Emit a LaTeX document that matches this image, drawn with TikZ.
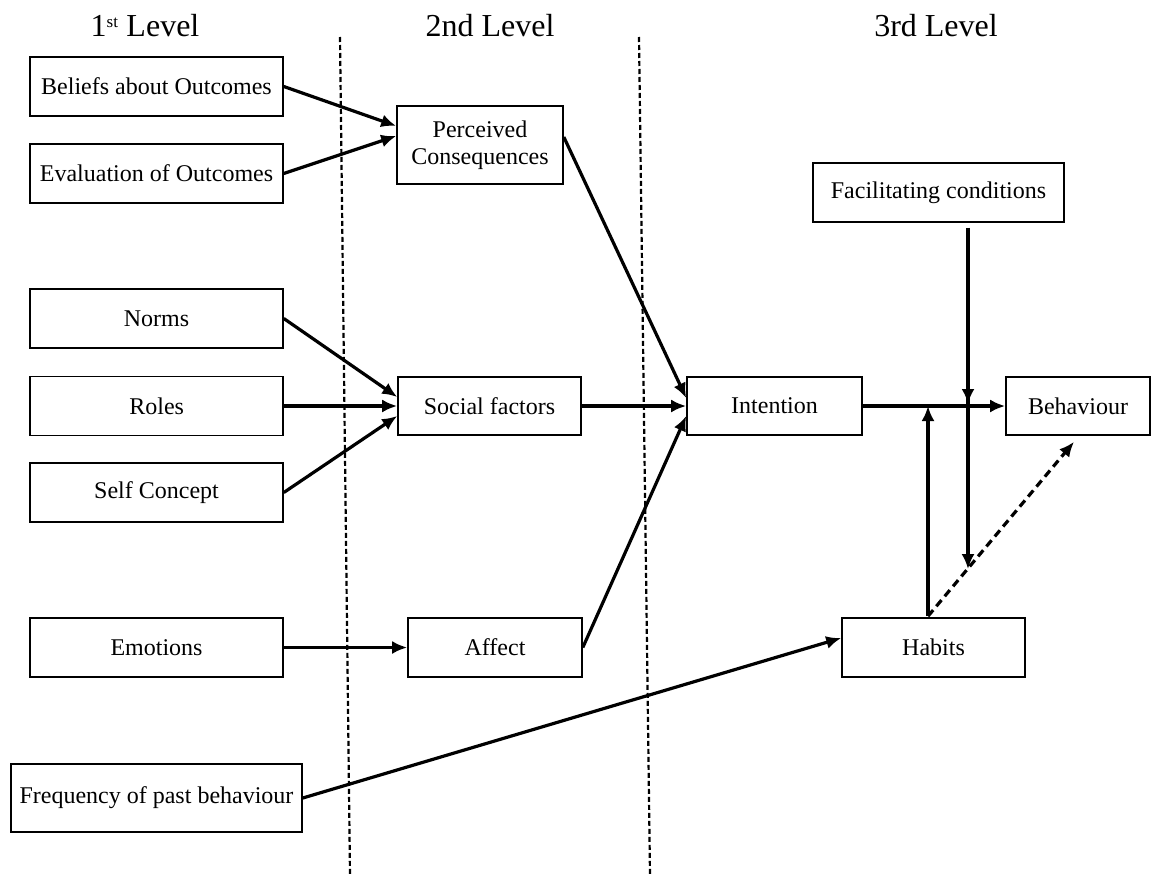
\documentclass[tikz,border=0pt]{standalone}
\usepackage{fontspec}
\setmainfont{Liberation Serif}
\usetikzlibrary{arrows.meta,calc}
\begin{document}
\begin{tikzpicture}[x=1pt,y=-1pt,
  box/.style={draw, line width=1.6pt, minimum height=59pt, inner sep=0pt,
    font=\fontsize{24}{27}\selectfont, align=center},
  arr/.style={line width=3.2pt, -{Latex[length=15pt,width=13pt]}},
  darr/.style={line width=3.2pt, dash pattern=on 8pt off 5pt, -{Latex[length=15pt,width=13pt]}},
  sep/.style={line width=2.2pt, dash pattern=on 5pt off 3pt},
  head/.style={font=\fontsize{32}{38}\selectfont, anchor=base}]
\useasboundingbox (0,0) rectangle (1158,875);

% headings
\node[head] (h1) at (145,37) {1\textsuperscript{\fontsize{17}{17}\selectfont st} Level};
\node[head] (h2) at (490,37) {2nd Level};
\node[head] (h3) at (936,37) {3rd Level};

% level separators
\draw[sep] (340,37) -- (350,875);
\draw[sep] (639,37) -- (650,875);

% boxes
\node[box, minimum width=253pt] (bel) at (156.5,86.5) {Beliefs about Outcomes};
\node[box, minimum width=253pt] (eva) at (156.5,173.5) {Evaluation of Outcomes};
\node[box, minimum width=166pt, minimum height=78pt] (perc) at (480,145) {Perceived\\Consequences};
\node[box, minimum width=251pt] (fac) at (938.5,192.5) {Facilitating conditions};
\node[box, minimum width=253pt] (norms) at (156.5,318.5) {Norms};
\node[box, minimum width=253pt] (roles) at (156.7,406) {Roles};
\node[box, minimum width=253pt] (self) at (156.5,492.5) {Self Concept};
\node[box, minimum width=183pt, minimum height=58pt] (soc) at (489.5,406) {Social factors};
\node[box, minimum width=175pt, minimum height=58pt] (int) at (774.5,406) {Intention};
\node[box, minimum width=144pt, minimum height=58pt] (beh) at (1078,406) {Behaviour};
\node[box, minimum width=253pt] (emo) at (156.5,647.5) {Emotions};
\node[box, minimum width=174pt] (aff) at (495,647.5) {Affect};
\node[box, minimum width=183pt] (hab) at (933.5,647.5) {Habits};
\node[box, minimum width=291pt, minimum height=68pt] (freq) at (156.5,798) {Frequency of past behaviour};

% connectors level 1 -> 2
\draw[arr] (bel.east) -- ($(perc.west)+(0,-19)$);
\draw[arr] (eva.east) -- ($(perc.west)+(0,-9)$);
\draw[arr] (norms.east) -- ($(soc.west)+(0,-9)$);
\draw[arr] (roles.east) -- (soc.west);
\draw[arr] (self.east) -- ($(soc.west)+(0,10)$);
\draw[arr] (emo.east) -- (aff.west);

% level 2 -> 3
\draw[arr] ($(perc.east)+(0,-8)$) -- ($(int.west)+(0,-8)$);
\draw[arr] (soc.east) -- (int.west);
\draw[arr] (aff.east) -- ($(int.west)+(0,10)$);
\draw[arr] (int.east) -- (beh.west);
\draw[arr] (freq.east) -- ($(hab.west)+(0,-9.5)$);

% habits and facilitating conditions
\coordinate (hx) at ($(hab.north)+(-5.5,-1)$);
\coordinate (bt) at ($(beh.south)+(-4,6)$);
\coordinate (mid) at ($(hx)!0.27!(bt)$);
\coordinate (ftop) at ($(fac.south)+(29.5,5)$);
\draw[darr] (hx) -- (bt);
\draw[arr] (hx) -- (hx |- int.east);
\draw[arr] (ftop) -- (ftop |- mid);
\draw[arr] (ftop) -- ($(ftop |- int.east)+(0,-2)$);
\end{tikzpicture}
\end{document}
